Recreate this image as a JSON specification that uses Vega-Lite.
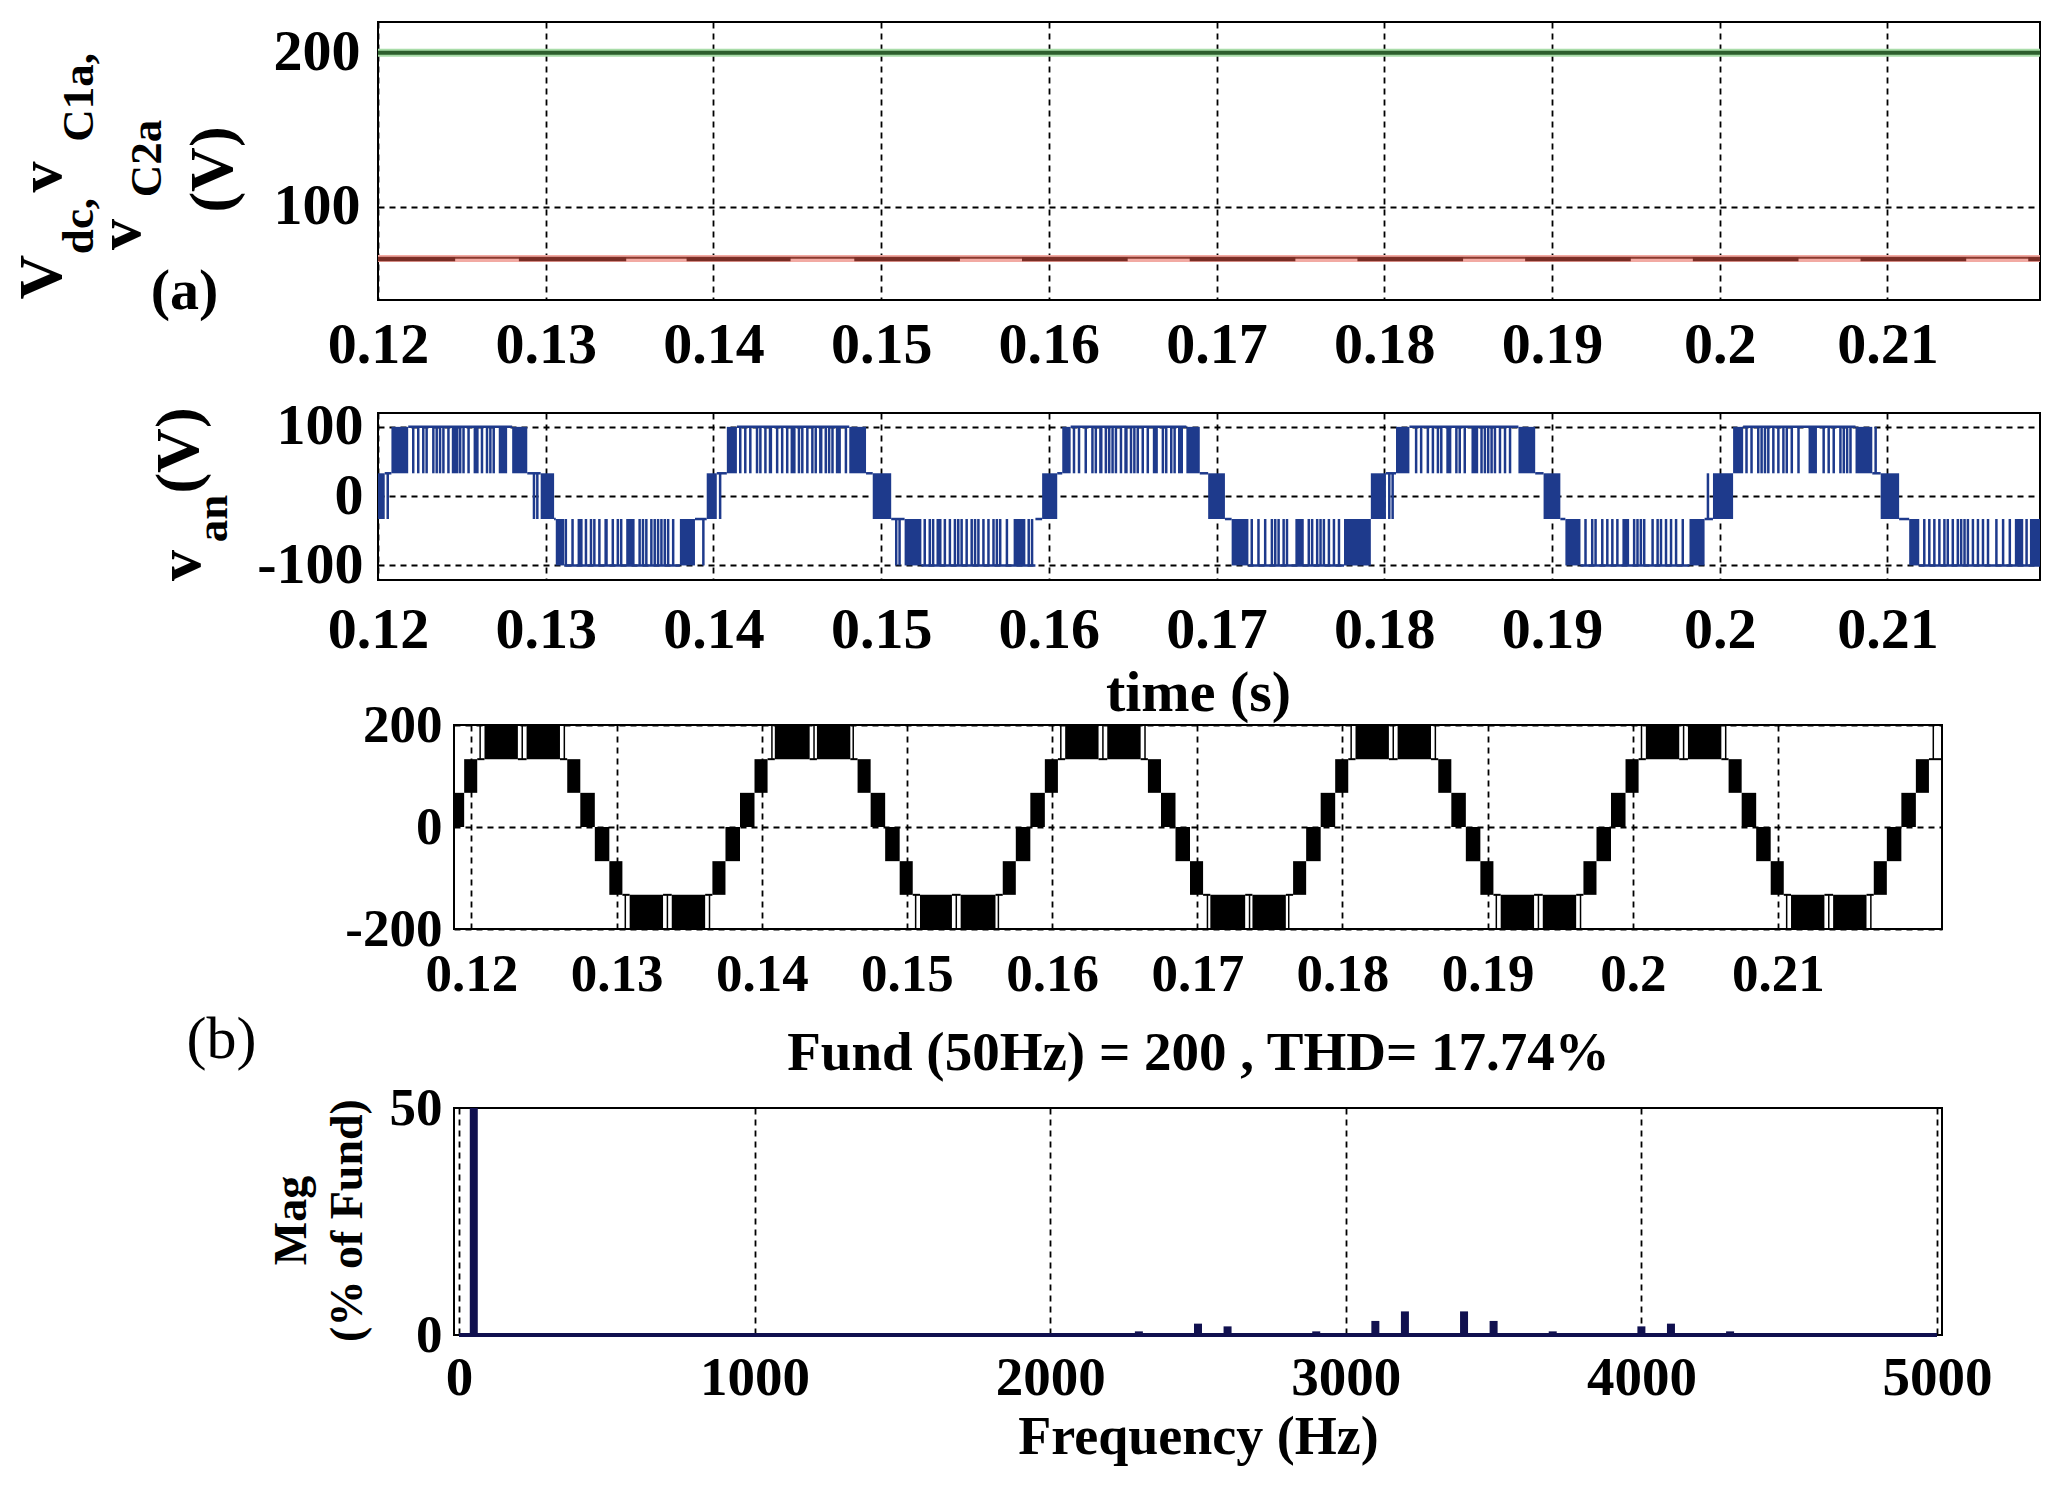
{
"$schema": "https://vega.github.io/schema/vega-lite/v6.json",
"background": "white",
"padding": {"left": 9, "top": 21, "right": 5, "bottom": 5},
"config": {
 "font": "Liberation Serif",
 "view": {"stroke": "black", "strokeWidth": 2},
 "axis": {"labelFont": "Liberation Serif", "labelFontWeight": "bold", "labelColor": "black", "titleFont": "Liberation Serif", "titleFontWeight": "bold", "titleColor": "black", "domain": false, "ticks": false, "tickSize": 0, "gridColor": "black", "gridDash": [6, 5], "gridWidth": 1.8, "gridOpacity": 1, "labelFlush": false, "labelOverlap": false},
 "title": {"font": "Liberation Serif", "color": "black"}
},
"datasets": {
 "p1G": [{"t": 0.12, "u": 0.2191, "v": 200}],
 "p1R": [{"t": 0.12, "u": 0.2191, "v": 66.8}],
 "p1H": [{"t": 0.12, "u": 0.2191, "v": 66.2}],
 "p1S": [{"t": 0.12, "u": 0.1246, "v": 65.8}, {"t": 0.1284, "u": 0.1348, "v": 65.8}, {"t": 0.1384, "u": 0.1446, "v": 65.8}, {"t": 0.1484, "u": 0.1547, "v": 65.8}, {"t": 0.1584, "u": 0.1647, "v": 65.8}, {"t": 0.1684, "u": 0.1747, "v": 65.8}, {"t": 0.1784, "u": 0.1847, "v": 65.8}, {"t": 0.1884, "u": 0.1947, "v": 65.8}, {"t": 0.1984, "u": 0.2047, "v": 65.8}, {"t": 0.2084, "u": 0.2147, "v": 65.8}, {"t": 0.2184, "u": 0.2191, "v": 65.8}],
 "p2L": [
  {"t": 0.1204, "u": 0.1208, "v": 33}, {"t": 0.1218, "u": 0.1280, "v": 100}, {"t": 0.1289, "u": 0.1297, "v": 33},
  {"t": 0.1305, "u": 0.1306, "v": -33}, {"t": 0.1311, "u": 0.1380, "v": -100}, {"t": 0.1389, "u": 0.1396, "v": -33},
  {"t": 0.1402, "u": 0.1408, "v": 33}, {"t": 0.1414, "u": 0.1481, "v": 100}, {"t": 0.1491, "u": 0.1495, "v": 33},
  {"t": 0.1506, "u": 0.1514, "v": -33}, {"t": 0.1524, "u": 0.1592, "v": -100}, {"t": 0.1592, "u": 0.1596, "v": -33},
  {"t": 0.1605, "u": 0.1608, "v": 33}, {"t": 0.1613, "u": 0.1682, "v": 100}, {"t": 0.1690, "u": 0.1695, "v": 33},
  {"t": 0.1705, "u": 0.1709, "v": -33}, {"t": 0.1719, "u": 0.1776, "v": -100},
  {"t": 0.1801, "u": 0.1807, "v": 33}, {"t": 0.1815, "u": 0.1880, "v": 100}, {"t": 0.1890, "u": 0.1895, "v": 33},
  {"t": 0.1905, "u": 0.1908, "v": -33}, {"t": 0.1917, "u": 0.1982, "v": -100}, {"t": 0.1991, "u": 0.1996, "v": -33},
  {"t": 0.2014, "u": 0.2081, "v": 100}, {"t": 0.2091, "u": 0.2096, "v": 33},
  {"t": 0.2107, "u": 0.2113, "v": -33}, {"t": 0.2119, "u": 0.2191, "v": -100}
 ],
 "p2B": [
  {"t": 0.1197, "u": 0.1204, "a": -33, "b": 33}, {"t": 0.1297, "u": 0.1305, "a": -33, "b": 33}, {"t": 0.1396, "u": 0.1402, "a": -33, "b": 33}, {"t": 0.1495, "u": 0.1506, "a": -33, "b": 33}, {"t": 0.1596, "u": 0.1605, "a": -33, "b": 33}, {"t": 0.1695, "u": 0.1705, "a": -33, "b": 33}, {"t": 0.1792, "u": 0.1801, "a": -33, "b": 33}, {"t": 0.1895, "u": 0.1905, "a": -33, "b": 33}, {"t": 0.1996, "u": 0.2008, "a": -33, "b": 33}, {"t": 0.2096, "u": 0.2107, "a": -33, "b": 33},
  {"t": 0.1208, "u": 0.1218, "a": 33, "b": 100}, {"t": 0.1244, "u": 0.1248, "a": 33, "b": 100}, {"t": 0.1257, "u": 0.1260, "a": 33, "b": 100}, {"t": 0.1272, "u": 0.1277, "a": 33, "b": 100}, {"t": 0.1280, "u": 0.1289, "a": 33, "b": 100},
  {"t": 0.1306, "u": 0.1311, "a": -100, "b": -33}, {"t": 0.1319, "u": 0.1322, "a": -100, "b": -33}, {"t": 0.1335, "u": 0.1337, "a": -100, "b": -33}, {"t": 0.1348, "u": 0.1353, "a": -100, "b": -33}, {"t": 0.1380, "u": 0.1389, "a": -100, "b": -33},
  {"t": 0.1408, "u": 0.1414, "a": 33, "b": 100}, {"t": 0.1433, "u": 0.1435, "a": 33, "b": 100}, {"t": 0.1446, "u": 0.1449, "a": 33, "b": 100}, {"t": 0.1463, "u": 0.1465, "a": 33, "b": 100}, {"t": 0.1473, "u": 0.1476, "a": 33, "b": 100}, {"t": 0.1481, "u": 0.1491, "a": 33, "b": 100},
  {"t": 0.1514, "u": 0.1524, "a": -100, "b": -33}, {"t": 0.1533, "u": 0.1536, "a": -100, "b": -33}, {"t": 0.1579, "u": 0.1586, "a": -100, "b": -33},
  {"t": 0.1608, "u": 0.1613, "a": 33, "b": 100}, {"t": 0.1630, "u": 0.1632, "a": 33, "b": 100}, {"t": 0.1645, "u": 0.1647, "a": 33, "b": 100}, {"t": 0.1662, "u": 0.1665, "a": 33, "b": 100}, {"t": 0.1677, "u": 0.1680, "a": 33, "b": 100}, {"t": 0.1682, "u": 0.1690, "a": 33, "b": 100},
  {"t": 0.1709, "u": 0.1719, "a": -100, "b": -33}, {"t": 0.1747, "u": 0.1752, "a": -100, "b": -33}, {"t": 0.1776, "u": 0.1792, "a": -100, "b": -33},
  {"t": 0.1807, "u": 0.1815, "a": 33, "b": 100}, {"t": 0.1837, "u": 0.1840, "a": 33, "b": 100}, {"t": 0.1852, "u": 0.1856, "a": 33, "b": 100}, {"t": 0.1880, "u": 0.1890, "a": 33, "b": 100},
  {"t": 0.1908, "u": 0.1917, "a": -100, "b": -33}, {"t": 0.1942, "u": 0.1946, "a": -100, "b": -33}, {"t": 0.1982, "u": 0.1991, "a": -100, "b": -33},
  {"t": 0.2008, "u": 0.2014, "a": 33, "b": 100}, {"t": 0.2053, "u": 0.2058, "a": 33, "b": 100}, {"t": 0.2081, "u": 0.2091, "a": 33, "b": 100},
  {"t": 0.2113, "u": 0.2119, "a": -100, "b": -33}, {"t": 0.2176, "u": 0.2181, "a": -100, "b": -33}, {"t": 0.2185, "u": 0.2191, "a": -100, "b": -33}
 ],
 "p2D": [
  {"t": 0.12058, "a": -33, "b": 33}, {"t": 0.1293, "a": -33, "b": 33}, {"t": 0.1295, "a": -33, "b": 33}, {"t": 0.1404, "a": -33, "b": 33}, {"t": 0.1803, "a": -33, "b": 33}, {"t": 0.1805, "a": -33, "b": 33}, {"t": 0.1993, "a": -33, "b": 33},
  {"t": 0.1221, "a": 33, "b": 100}, {"t": 0.1224, "a": 33, "b": 100}, {"t": 0.1227, "a": 33, "b": 100}, {"t": 0.1229, "a": 33, "b": 100}, {"t": 0.1233, "a": 33, "b": 100}, {"t": 0.1235, "a": 33, "b": 100}, {"t": 0.1237, "a": 33, "b": 100}, {"t": 0.1239, "a": 33, "b": 100}, {"t": 0.1242, "a": 33, "b": 100}, {"t": 0.1249, "a": 33, "b": 100}, {"t": 0.1251, "a": 33, "b": 100}, {"t": 0.1254, "a": 33, "b": 100}, {"t": 0.1262, "a": 33, "b": 100}, {"t": 0.1265, "a": 33, "b": 100}, {"t": 0.1267, "a": 33, "b": 100}, {"t": 0.1269, "a": 33, "b": 100},
  {"t": 0.1312, "a": -100, "b": -33}, {"t": 0.1316, "a": -100, "b": -33}, {"t": 0.1324, "a": -100, "b": -33}, {"t": 0.1327, "a": -100, "b": -33}, {"t": 0.1329, "a": -100, "b": -33}, {"t": 0.1332, "a": -100, "b": -33}, {"t": 0.1340, "a": -100, "b": -33}, {"t": 0.1343, "a": -100, "b": -33}, {"t": 0.1345, "a": -100, "b": -33}, {"t": 0.1356, "a": -100, "b": -33}, {"t": 0.1358, "a": -100, "b": -33}, {"t": 0.1360, "a": -100, "b": -33}, {"t": 0.1363, "a": -100, "b": -33}, {"t": 0.1365, "a": -100, "b": -33}, {"t": 0.1367, "a": -100, "b": -33}, {"t": 0.1369, "a": -100, "b": -33}, {"t": 0.1371, "a": -100, "b": -33}, {"t": 0.1373, "a": -100, "b": -33}, {"t": 0.1376, "a": -100, "b": -33}, {"t": 0.1394, "a": -100, "b": -33},
  {"t": 0.1416, "a": 33, "b": 100}, {"t": 0.1419, "a": 33, "b": 100}, {"t": 0.1422, "a": 33, "b": 100}, {"t": 0.1426, "a": 33, "b": 100}, {"t": 0.1428, "a": 33, "b": 100}, {"t": 0.1431, "a": 33, "b": 100}, {"t": 0.1438, "a": 33, "b": 100}, {"t": 0.1441, "a": 33, "b": 100}, {"t": 0.1444, "a": 33, "b": 100}, {"t": 0.1451, "a": 33, "b": 100}, {"t": 0.1453, "a": 33, "b": 100}, {"t": 0.1456, "a": 33, "b": 100}, {"t": 0.1459, "a": 33, "b": 100}, {"t": 0.1461, "a": 33, "b": 100}, {"t": 0.1467, "a": 33, "b": 100}, {"t": 0.1469, "a": 33, "b": 100}, {"t": 0.1471, "a": 33, "b": 100}, {"t": 0.1479, "a": 33, "b": 100},
  {"t": 0.1509, "a": -100, "b": -33}, {"t": 0.1511, "a": -100, "b": -33}, {"t": 0.1526, "a": -100, "b": -33}, {"t": 0.1529, "a": -100, "b": -33}, {"t": 0.1531, "a": -100, "b": -33}, {"t": 0.1538, "a": -100, "b": -33}, {"t": 0.1541, "a": -100, "b": -33}, {"t": 0.1544, "a": -100, "b": -33}, {"t": 0.1546, "a": -100, "b": -33}, {"t": 0.1548, "a": -100, "b": -33}, {"t": 0.1551, "a": -100, "b": -33}, {"t": 0.1554, "a": -100, "b": -33}, {"t": 0.1556, "a": -100, "b": -33}, {"t": 0.1558, "a": -100, "b": -33}, {"t": 0.1561, "a": -100, "b": -33}, {"t": 0.1564, "a": -100, "b": -33}, {"t": 0.1567, "a": -100, "b": -33}, {"t": 0.1569, "a": -100, "b": -33}, {"t": 0.1571, "a": -100, "b": -33}, {"t": 0.1575, "a": -100, "b": -33}, {"t": 0.1588, "a": -100, "b": -33}, {"t": 0.1590, "a": -100, "b": -33},
  {"t": 0.1615, "a": 33, "b": 100}, {"t": 0.1618, "a": 33, "b": 100}, {"t": 0.1622, "a": 33, "b": 100}, {"t": 0.1626, "a": 33, "b": 100}, {"t": 0.1628, "a": 33, "b": 100}, {"t": 0.1634, "a": 33, "b": 100}, {"t": 0.1636, "a": 33, "b": 100}, {"t": 0.1638, "a": 33, "b": 100}, {"t": 0.1640, "a": 33, "b": 100}, {"t": 0.1643, "a": 33, "b": 100}, {"t": 0.1649, "a": 33, "b": 100}, {"t": 0.1651, "a": 33, "b": 100}, {"t": 0.1653, "a": 33, "b": 100}, {"t": 0.1656, "a": 33, "b": 100}, {"t": 0.1659, "a": 33, "b": 100}, {"t": 0.1668, "a": 33, "b": 100}, {"t": 0.1670, "a": 33, "b": 100}, {"t": 0.1673, "a": 33, "b": 100}, {"t": 0.1675, "a": 33, "b": 100},
  {"t": 0.1721, "a": -100, "b": -33}, {"t": 0.1725, "a": -100, "b": -33}, {"t": 0.1729, "a": -100, "b": -33}, {"t": 0.1733, "a": -100, "b": -33}, {"t": 0.1735, "a": -100, "b": -33}, {"t": 0.1737, "a": -100, "b": -33}, {"t": 0.1740, "a": -100, "b": -33}, {"t": 0.1742, "a": -100, "b": -33}, {"t": 0.1755, "a": -100, "b": -33}, {"t": 0.1757, "a": -100, "b": -33}, {"t": 0.1760, "a": -100, "b": -33}, {"t": 0.1762, "a": -100, "b": -33}, {"t": 0.1764, "a": -100, "b": -33}, {"t": 0.1767, "a": -100, "b": -33}, {"t": 0.1770, "a": -100, "b": -33}, {"t": 0.1773, "a": -100, "b": -33},
  {"t": 0.1819, "a": 33, "b": 100}, {"t": 0.1822, "a": 33, "b": 100}, {"t": 0.1826, "a": 33, "b": 100}, {"t": 0.1829, "a": 33, "b": 100}, {"t": 0.1832, "a": 33, "b": 100}, {"t": 0.1834, "a": 33, "b": 100}, {"t": 0.1843, "a": 33, "b": 100}, {"t": 0.1845, "a": 33, "b": 100}, {"t": 0.1848, "a": 33, "b": 100}, {"t": 0.1858, "a": 33, "b": 100}, {"t": 0.1860, "a": 33, "b": 100}, {"t": 0.1862, "a": 33, "b": 100}, {"t": 0.1864, "a": 33, "b": 100}, {"t": 0.1866, "a": 33, "b": 100}, {"t": 0.1869, "a": 33, "b": 100}, {"t": 0.1872, "a": 33, "b": 100}, {"t": 0.1875, "a": 33, "b": 100},
  {"t": 0.1920, "a": -100, "b": -33}, {"t": 0.1924, "a": -100, "b": -33}, {"t": 0.1926, "a": -100, "b": -33}, {"t": 0.1930, "a": -100, "b": -33}, {"t": 0.1933, "a": -100, "b": -33}, {"t": 0.1936, "a": -100, "b": -33}, {"t": 0.1939, "a": -100, "b": -33}, {"t": 0.1949, "a": -100, "b": -33}, {"t": 0.1951, "a": -100, "b": -33}, {"t": 0.1953, "a": -100, "b": -33}, {"t": 0.1955, "a": -100, "b": -33}, {"t": 0.1960, "a": -100, "b": -33}, {"t": 0.1963, "a": -100, "b": -33}, {"t": 0.1965, "a": -100, "b": -33}, {"t": 0.1968, "a": -100, "b": -33}, {"t": 0.1971, "a": -100, "b": -33}, {"t": 0.1974, "a": -100, "b": -33}, {"t": 0.1978, "a": -100, "b": -33},
  {"t": 0.2016, "a": 33, "b": 100}, {"t": 0.2019, "a": 33, "b": 100}, {"t": 0.2023, "a": 33, "b": 100}, {"t": 0.2025, "a": 33, "b": 100}, {"t": 0.2027, "a": 33, "b": 100}, {"t": 0.2029, "a": 33, "b": 100}, {"t": 0.2032, "a": 33, "b": 100}, {"t": 0.2035, "a": 33, "b": 100}, {"t": 0.2038, "a": 33, "b": 100}, {"t": 0.2040, "a": 33, "b": 100}, {"t": 0.2043, "a": 33, "b": 100}, {"t": 0.2047, "a": 33, "b": 100}, {"t": 0.2062, "a": 33, "b": 100}, {"t": 0.2065, "a": 33, "b": 100}, {"t": 0.2068, "a": 33, "b": 100}, {"t": 0.2072, "a": 33, "b": 100}, {"t": 0.2074, "a": 33, "b": 100}, {"t": 0.2076, "a": 33, "b": 100}, {"t": 0.2078, "a": 33, "b": 100}, {"t": 0.2093, "a": 33, "b": 100},
  {"t": 0.2122, "a": -100, "b": -33}, {"t": 0.2125, "a": -100, "b": -33}, {"t": 0.2128, "a": -100, "b": -33}, {"t": 0.2131, "a": -100, "b": -33}, {"t": 0.2134, "a": -100, "b": -33}, {"t": 0.2136, "a": -100, "b": -33}, {"t": 0.2139, "a": -100, "b": -33}, {"t": 0.2142, "a": -100, "b": -33}, {"t": 0.2144, "a": -100, "b": -33}, {"t": 0.2146, "a": -100, "b": -33}, {"t": 0.2148, "a": -100, "b": -33}, {"t": 0.2151, "a": -100, "b": -33}, {"t": 0.2154, "a": -100, "b": -33}, {"t": 0.2157, "a": -100, "b": -33}, {"t": 0.2160, "a": -100, "b": -33}, {"t": 0.2165, "a": -100, "b": -33}, {"t": 0.2169, "a": -100, "b": -33}, {"t": 0.2173, "a": -100, "b": -33}, {"t": 0.2183, "a": -100, "b": -33}
 ],
 "p3B": [
  {"t": 0.1185, "u": 0.1195, "a": 0, "b": 67}, {"t": 0.1195, "u": 0.1204, "a": 67, "b": 133}, {"t": 0.1209, "u": 0.1232, "a": 133, "b": 200}, {"t": 0.1238, "u": 0.1261, "a": 133, "b": 200}, {"t": 0.1266, "u": 0.1275, "a": 67, "b": 133}, {"t": 0.1275, "u": 0.1285, "a": 0, "b": 67},
  {"t": 0.1285, "u": 0.1295, "a": -67, "b": 0}, {"t": 0.1295, "u": 0.1304, "a": -133, "b": -67}, {"t": 0.1309, "u": 0.1332, "a": -200, "b": -133}, {"t": 0.1338, "u": 0.1361, "a": -200, "b": -133}, {"t": 0.1366, "u": 0.1375, "a": -133, "b": -67}, {"t": 0.1375, "u": 0.1385, "a": -67, "b": 0},
  {"t": 0.1385, "u": 0.1395, "a": 0, "b": 67}, {"t": 0.1395, "u": 0.1404, "a": 67, "b": 133}, {"t": 0.1409, "u": 0.1433, "a": 133, "b": 200}, {"t": 0.1438, "u": 0.1461, "a": 133, "b": 200}, {"t": 0.1466, "u": 0.1475, "a": 67, "b": 133}, {"t": 0.1475, "u": 0.1485, "a": 0, "b": 67},
  {"t": 0.1485, "u": 0.1495, "a": -67, "b": 0}, {"t": 0.1495, "u": 0.1504, "a": -133, "b": -67}, {"t": 0.1509, "u": 0.1531, "a": -200, "b": -133}, {"t": 0.1537, "u": 0.1561, "a": -200, "b": -133}, {"t": 0.1566, "u": 0.1575, "a": -133, "b": -67}, {"t": 0.1575, "u": 0.1585, "a": -67, "b": 0},
  {"t": 0.1585, "u": 0.1595, "a": 0, "b": 67}, {"t": 0.1595, "u": 0.1604, "a": 67, "b": 133}, {"t": 0.1609, "u": 0.1632, "a": 133, "b": 200}, {"t": 0.1638, "u": 0.1661, "a": 133, "b": 200}, {"t": 0.1666, "u": 0.1675, "a": 67, "b": 133}, {"t": 0.1675, "u": 0.1685, "a": 0, "b": 67},
  {"t": 0.1685, "u": 0.1695, "a": -67, "b": 0}, {"t": 0.1695, "u": 0.1704, "a": -133, "b": -67}, {"t": 0.1709, "u": 0.1733, "a": -200, "b": -133}, {"t": 0.1738, "u": 0.1761, "a": -200, "b": -133}, {"t": 0.1766, "u": 0.1775, "a": -133, "b": -67}, {"t": 0.1775, "u": 0.1785, "a": -67, "b": 0},
  {"t": 0.1785, "u": 0.1795, "a": 0, "b": 67}, {"t": 0.1795, "u": 0.1804, "a": 67, "b": 133}, {"t": 0.1809, "u": 0.1832, "a": 133, "b": 200}, {"t": 0.1838, "u": 0.1861, "a": 133, "b": 200}, {"t": 0.1866, "u": 0.1875, "a": 67, "b": 133}, {"t": 0.1875, "u": 0.1885, "a": 0, "b": 67},
  {"t": 0.1885, "u": 0.1895, "a": -67, "b": 0}, {"t": 0.1895, "u": 0.1904, "a": -133, "b": -67}, {"t": 0.1909, "u": 0.1932, "a": -200, "b": -133}, {"t": 0.1938, "u": 0.1961, "a": -200, "b": -133}, {"t": 0.1966, "u": 0.1975, "a": -133, "b": -67}, {"t": 0.1975, "u": 0.1985, "a": -67, "b": 0},
  {"t": 0.1985, "u": 0.1995, "a": 0, "b": 67}, {"t": 0.1995, "u": 0.2004, "a": 67, "b": 133}, {"t": 0.2009, "u": 0.2032, "a": 133, "b": 200}, {"t": 0.2038, "u": 0.2061, "a": 133, "b": 200}, {"t": 0.2066, "u": 0.2075, "a": 67, "b": 133}, {"t": 0.2075, "u": 0.2085, "a": 0, "b": 67},
  {"t": 0.2085, "u": 0.2095, "a": -67, "b": 0}, {"t": 0.2095, "u": 0.2104, "a": -133, "b": -67}, {"t": 0.2109, "u": 0.2132, "a": -200, "b": -133}, {"t": 0.2138, "u": 0.2161, "a": -200, "b": -133}, {"t": 0.2166, "u": 0.2175, "a": -133, "b": -67}, {"t": 0.2175, "u": 0.2185, "a": -67, "b": 0},
  {"t": 0.2185, "u": 0.2195, "a": 0, "b": 67}, {"t": 0.2195, "u": 0.2204, "a": 67, "b": 133}
 ],
 "p3L": [
  {"t": 0.1204, "u": 0.1209, "a": 133}, {"t": 0.1232, "u": 0.1238, "a": 133}, {"t": 0.1261, "u": 0.1266, "a": 133},
  {"t": 0.1304, "u": 0.1309, "a": -133}, {"t": 0.1332, "u": 0.1338, "a": -133}, {"t": 0.1361, "u": 0.1366, "a": -133},
  {"t": 0.1404, "u": 0.1409, "a": 133}, {"t": 0.1433, "u": 0.1438, "a": 133}, {"t": 0.1461, "u": 0.1466, "a": 133},
  {"t": 0.1504, "u": 0.1509, "a": -133}, {"t": 0.1531, "u": 0.1537, "a": -133}, {"t": 0.1561, "u": 0.1566, "a": -133},
  {"t": 0.1604, "u": 0.1609, "a": 133}, {"t": 0.1632, "u": 0.1638, "a": 133}, {"t": 0.1661, "u": 0.1666, "a": 133},
  {"t": 0.1704, "u": 0.1709, "a": -133}, {"t": 0.1733, "u": 0.1738, "a": -133}, {"t": 0.1761, "u": 0.1766, "a": -133},
  {"t": 0.1804, "u": 0.1809, "a": 133}, {"t": 0.1832, "u": 0.1838, "a": 133}, {"t": 0.1861, "u": 0.1866, "a": 133},
  {"t": 0.1904, "u": 0.1909, "a": -133}, {"t": 0.1932, "u": 0.1938, "a": -133}, {"t": 0.1961, "u": 0.1966, "a": -133},
  {"t": 0.2004, "u": 0.2009, "a": 133}, {"t": 0.2032, "u": 0.2038, "a": 133}, {"t": 0.2061, "u": 0.2066, "a": 133},
  {"t": 0.2104, "u": 0.2109, "a": -133}, {"t": 0.2132, "u": 0.2138, "a": -133}, {"t": 0.2161, "u": 0.2166, "a": -133},
  {"t": 0.2204, "u": 0.2213, "a": 133}
 ],
 "p3D": [
  {"t": 0.1206, "a": 133, "b": 200}, {"t": 0.1235, "a": 133, "b": 200}, {"t": 0.1264, "a": 133, "b": 200},
  {"t": 0.1306, "a": -200, "b": -133}, {"t": 0.1335, "a": -200, "b": -133}, {"t": 0.1364, "a": -200, "b": -133},
  {"t": 0.1407, "a": 133, "b": 200}, {"t": 0.1436, "a": 133, "b": 200}, {"t": 0.1463, "a": 133, "b": 200},
  {"t": 0.1506, "a": -200, "b": -133}, {"t": 0.1534, "a": -200, "b": -133}, {"t": 0.1563, "a": -200, "b": -133},
  {"t": 0.1606, "a": 133, "b": 200}, {"t": 0.1635, "a": 133, "b": 200}, {"t": 0.1664, "a": 133, "b": 200},
  {"t": 0.1707, "a": -200, "b": -133}, {"t": 0.1736, "a": -200, "b": -133}, {"t": 0.1763, "a": -200, "b": -133},
  {"t": 0.1806, "a": 133, "b": 200}, {"t": 0.1835, "a": 133, "b": 200}, {"t": 0.1864, "a": 133, "b": 200},
  {"t": 0.1906, "a": -200, "b": -133}, {"t": 0.1935, "a": -200, "b": -133}, {"t": 0.1964, "a": -200, "b": -133},
  {"t": 0.2006, "a": 133, "b": 200}, {"t": 0.2035, "a": 133, "b": 200}, {"t": 0.2064, "a": 133, "b": 200},
  {"t": 0.2106, "a": -200, "b": -133}, {"t": 0.2135, "a": -200, "b": -133}, {"t": 0.2164, "a": -200, "b": -133},
  {"t": 0.2207, "a": 133, "b": 200}
 ],
 "p4": [
  {"f": 50, "m": 100}, {"f": 2300, "m": 0.8}, {"f": 2500, "m": 2.5}, {"f": 2600, "m": 1.9}, {"f": 2900, "m": 0.8}, {"f": 3100, "m": 3.1}, {"f": 3200, "m": 5.2}, {"f": 3400, "m": 5.2}, {"f": 3500, "m": 3.1}, {"f": 3700, "m": 0.8}, {"f": 4000, "m": 1.9}, {"f": 4100, "m": 2.5}, {"f": 4300, "m": 0.8}
 ],
 "p4base": [{"f": 0, "g": 5000, "m": 0}]
},
"spacing": 113,
"bounds": "flush",
"vconcat": [
 {
  "width": 1662, "height": 278,
  "encoding": {"x": {"field": "t", "type": "quantitative", "scale": {"domain": [0.12, 0.2191], "nice": false, "zero": false},
   "axis": {"values": [0.12, 0.13, 0.14, 0.15, 0.16, 0.17, 0.18, 0.19, 0.2, 0.21], "format": "~g", "grid": true, "labelFontSize": 58, "labelPadding": 16, "title": "(a)", "titleX": -194, "titleY": -9, "titleAngle": 0, "titleAlign": "center", "titleBaseline": "middle", "titleFontSize": 58}}},
  "layer": [
   {"data": {"name": "p1G"}, "mark": {"type": "rule", "color": "#a8dca8", "strokeWidth": 8, "clip": true},
    "encoding": {"x2": {"field": "u"}, "y": {"field": "v", "type": "quantitative", "scale": {"domain": [39.3, 220], "nice": false, "zero": false},
     "axis": {"orient": "left", "values": [100, 200], "grid": true, "labelFontSize": 58, "labelPadding": 18, "title": "V\u00a0\u00a0\u00a0\u00a0v", "titleX": -337, "titleY": 208, "titleAngle": 270, "titleAlign": "center", "titleBaseline": "middle", "titleFontSize": 62}}}},
   {"data": {"name": "p1G"}, "mark": {"type": "rule", "color": "#2d5f2d", "strokeWidth": 4, "clip": true},
    "encoding": {"x2": {"field": "u"}, "y": {"field": "v", "type": "quantitative",
     "axis": {"orient": "left", "labels": false, "grid": false, "title": "dc,\u00a0\u00a0\u00a0\u00a0\u00a0C1a,", "titleX": -300, "titleY": 131, "titleAngle": 270, "titleAlign": "center", "titleBaseline": "middle", "titleFontSize": 45}}}},
   {"data": {"name": "p1H"}, "mark": {"type": "rule", "color": "#f2aaa3", "strokeWidth": 7, "clip": true},
    "encoding": {"x2": {"field": "u"}, "y": {"field": "v", "type": "quantitative",
     "axis": {"orient": "left", "labels": false, "grid": false, "title": "v", "titleX": -258, "titleY": 212, "titleAngle": 270, "titleAlign": "center", "titleBaseline": "middle", "titleFontSize": 62}}}},
   {"data": {"name": "p1R"}, "mark": {"type": "rule", "color": "#8a3a2f", "strokeWidth": 2, "clip": true},
    "encoding": {"x2": {"field": "u"}, "y": {"field": "v", "type": "quantitative",
     "axis": {"orient": "left", "labels": false, "grid": false, "title": "C2a", "titleX": -232, "titleY": 136, "titleAngle": 270, "titleAlign": "center", "titleBaseline": "middle", "titleFontSize": 45}}}},
   {"data": {"name": "p1S"}, "mark": {"type": "rule", "color": "#7a2e26", "strokeWidth": 4, "clip": true},
    "encoding": {"x2": {"field": "u"}, "y": {"field": "v", "type": "quantitative",
     "axis": {"orient": "left", "labels": false, "grid": false, "title": "(V)", "titleX": -166, "titleY": 147, "titleAngle": 270, "titleAlign": "center", "titleBaseline": "middle", "titleFontSize": 62}}}}
  ],
  "resolve": {"axis": {"y": "independent"}}
 },
 {
  "spacing": 145,
  "bounds": "flush",
  "vconcat": [
   {
    "width": 1662, "height": 167,
    "encoding": {"x": {"field": "t", "type": "quantitative", "scale": {"domain": [0.12, 0.2191], "nice": false, "zero": false},
     "axis": {"values": [0.12, 0.13, 0.14, 0.15, 0.16, 0.17, 0.18, 0.19, 0.2, 0.21], "format": "~g", "grid": true, "labelFontSize": 58, "labelPadding": 21, "title": "time (s)", "titleX": 820, "titleY": 113, "titleAlign": "center", "titleBaseline": "middle", "titleFontSize": 58}}},
    "layer": [
     {"data": {"name": "p2L"}, "mark": {"type": "rule", "color": "#1e3a8c", "strokeWidth": 2.5, "clip": true},
      "encoding": {"x2": {"field": "u"}, "y": {"field": "v", "type": "quantitative", "scale": {"domain": [-121, 120], "nice": false, "zero": false},
       "axis": {"orient": "left", "values": [-100, 0, 100], "labelExpr": "'' + datum.value", "grid": true, "labelFontSize": 58, "labelPadding": 15, "title": "v", "titleX": -198, "titleY": 152, "titleAngle": 270, "titleAlign": "center", "titleBaseline": "middle", "titleFontSize": 62}}}},
     {"data": {"name": "p2B"}, "mark": {"type": "rect", "color": "#1e3a8c", "clip": true},
      "encoding": {"x2": {"field": "u"}, "y": {"field": "a", "type": "quantitative",
       "axis": {"orient": "left", "labels": false, "grid": false, "title": "an", "titleX": -166, "titleY": 105, "titleAngle": 270, "titleAlign": "center", "titleBaseline": "middle", "titleFontSize": 45}}, "y2": {"field": "b"}}},
     {"data": {"name": "p2D"}, "mark": {"type": "rule", "color": "#1e3a8c", "strokeWidth": 2.5, "clip": true},
      "encoding": {"y": {"field": "a", "type": "quantitative",
       "axis": {"orient": "left", "labels": false, "grid": false, "title": "(V)", "titleX": -200, "titleY": 37, "titleAngle": 270, "titleAlign": "center", "titleBaseline": "middle", "titleFontSize": 62}}, "y2": {"field": "b"}}}
    ],
    "resolve": {"axis": {"y": "independent"}}
   },
   {
    "spacing": 0,
    "bounds": "flush",
    "hconcat": [
     {"width": 76, "height": 10, "view": {"stroke": null}, "data": {"values": [{"z": 0}]}, "mark": {"type": "point", "opacity": 0}, "encoding": {}},
     {
      "spacing": 179,
      "bounds": "flush",
      "vconcat": [
       {
        "width": 1488, "height": 204,
        "encoding": {
         "x": {"field": "t", "type": "quantitative", "scale": {"domain": [0.1188, 0.2213], "nice": false, "zero": false},
          "axis": {"values": [0.12, 0.13, 0.14, 0.15, 0.16, 0.17, 0.18, 0.19, 0.2, 0.21], "format": "~g", "grid": true, "labelFontSize": 53, "labelPadding": 19, "title": "(b)", "titleX": -233, "titleY": 110, "titleAngle": 0, "titleAlign": "center", "titleBaseline": "middle", "titleFontSize": 60, "titleFontWeight": "normal"}},
         "y": {"field": "a", "type": "quantitative", "scale": {"domain": [-200, 200], "nice": false, "zero": false},
          "axis": {"values": [-200, 0, 200], "labelExpr": "'' + datum.value", "grid": true, "labelFontSize": 53, "labelPadding": 12, "title": null}}
        },
        "layer": [
         {"data": {"name": "p3B"}, "mark": {"type": "rect", "color": "black", "clip": true}, "encoding": {"x2": {"field": "u"}, "y2": {"field": "b"}}},
         {"data": {"name": "p3L"}, "mark": {"type": "rule", "color": "black", "strokeWidth": 2, "clip": true}, "encoding": {"x2": {"field": "u"}}},
         {"data": {"name": "p3D"}, "mark": {"type": "rule", "color": "black", "strokeWidth": 1.5, "clip": true}, "encoding": {"y2": {"field": "b"}}}
        ]
       },
       {
        "width": 1488, "height": 227,
        "encoding": {
         "y": {"field": "m", "type": "quantitative", "scale": {"domain": [0, 50], "nice": false},
          "axis": {"values": [0, 50], "grid": false, "labelFontSize": 53, "labelPadding": 12, "title": ["Mag", "(% of Fund)"], "titleX": -163, "titleY": 112, "titleAngle": 270, "titleAlign": "center", "titleBaseline": "middle", "titleFontSize": 46, "titleLineHeight": 56}}
        },
        "layer": [
         {"data": {"name": "p4"}, "mark": {"type": "bar", "color": "#10104f", "width": 8, "clip": true},
          "encoding": {"x": {"field": "f", "type": "quantitative", "scale": {"domain": [0, 5000], "nice": false, "zero": false},
           "axis": {"values": [0, 1000, 2000, 3000, 4000, 5000], "format": "d", "grid": true, "labelFontSize": 55, "labelPadding": 16, "title": "Frequency (Hz)", "titleX": 744, "titleY": 102, "titleAlign": "center", "titleBaseline": "middle", "titleFontSize": 54}}}},
         {"data": {"name": "p4base"}, "mark": {"type": "rule", "color": "#10104f", "strokeWidth": 4},
          "encoding": {"x": {"field": "f", "type": "quantitative",
           "axis": {"orient": "top", "labels": false, "grid": false, "title": "Fund (50Hz) = 200 , THD= 17.74%", "titleX": 744, "titleY": -56, "titleAngle": 0, "titleAlign": "center", "titleBaseline": "middle", "titleFontSize": 55}}, "x2": {"field": "g"}}}
        ],
        "resolve": {"axis": {"x": "independent"}}
       }
      ]
     }
    ]
   }
  ]
 }
]
}
